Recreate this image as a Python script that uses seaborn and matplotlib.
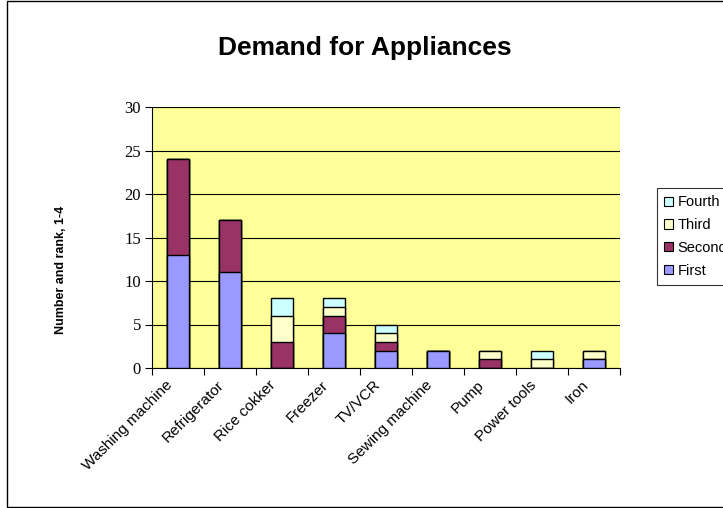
import matplotlib
matplotlib.use("Agg")
import matplotlib.pyplot as plt
import matplotlib.transforms as mtrans
import seaborn as sns
import numpy as np
from matplotlib.patches import Patch, Rectangle

categories = ["Washing machine", "Refrigerator", "Rice cokker", "Freezer", "TV/VCR",
              "Sewing machine", "Pump", "Power tools", "Iron"]
first = [13, 11, 0, 4, 2, 2, 0, 0, 1]
second = [11, 6, 3, 2, 1, 0, 1, 0, 0]
third = [0, 0, 3, 1, 1, 0, 1, 1, 1]
fourth = [0, 0, 2, 1, 1, 0, 0, 1, 0]
series_names = ["First", "Second", "Third", "Fourth"]
colors = ["#9999FF", "#993366", "#FFFFCC", "#CCFFFF"]

sns.set_style("white")
plt.rcParams["font.family"] = ["Liberation Sans", "DejaVu Sans"]
plt.rcParams["text.color"] = "black"
plt.rcParams["axes.labelcolor"] = "black"
plt.rcParams["xtick.color"] = "black"
plt.rcParams["ytick.color"] = "black"

fig = plt.figure(figsize=(7.23, 5.08), dpi=100)
ax = fig.add_axes([152/723, 1-368/508, (620-152)/723, (368-107)/508])
ax.set_facecolor("#FFFF99")

series = [first, second, third, fourth]
cums = np.cumsum(np.array(series), axis=0)
for i in range(3, -1, -1):
    sns.barplot(x=categories, y=cums[i], color=colors[i], edgecolor="black",
                linewidth=1.0, width=0.42, saturation=1, ax=ax, zorder=3)

ax.set_ylim(0, 30)
ax.set_xlim(-0.5, len(categories) - 0.5)
ax.set_yticks(range(0, 31, 5))
ax.yaxis.grid(True, color="black", linewidth=0.8, zorder=1)
ax.set_axisbelow(True)
for lbl in ax.get_yticklabels():
    lbl.set_family("Liberation Serif")
    lbl.set_fontsize(12)
ax.tick_params(axis="y", direction="out", length=5, width=0.8, color="black", left=True, pad=3)

ax.set_xticks(np.arange(len(categories)), labels=categories, rotation=45, ha="right",
              rotation_mode="anchor", fontsize=11)
ax.tick_params(axis="x", length=0, pad=7, bottom=False)
shift = mtrans.ScaledTranslation(-13/100, 0, fig.dpi_scale_trans)
for lbl in ax.get_xticklabels():
    lbl.set_transform(lbl.get_transform() + shift)
ax.set_xticks(np.arange(-0.5, len(categories)), minor=True)
ax.tick_params(axis="x", which="minor", direction="out", length=5, width=0.8,
               color="black", bottom=True)

for s in ["top", "right"]:
    ax.spines[s].set_visible(False)
for s in ["left", "bottom"]:
    ax.spines[s].set_color("black")
    ax.spines[s].set_linewidth(0.8)
ax.set_xlabel("")
ax.set_ylabel("Number and rank, 1-4", fontsize=9, fontweight="bold")
ax.yaxis.set_label_coords((67-152)/468, (368-270)/261)

fig.text(365/723, 1-48/508, "Demand for Appliances", ha="center", va="center",
         fontsize=19, fontweight="bold", color="black")

handles = [Patch(facecolor=colors[i], edgecolor="black", linewidth=0.8, label=series_names[i])
           for i in range(3, -1, -1)]
leg = fig.legend(handles=handles, loc="lower left", bbox_to_anchor=(657/723, 1-285/508),
                 frameon=True, fancybox=False, fontsize=10.5, handlelength=0.6, handleheight=0.6,
                 handletextpad=0.3, labelspacing=0.6, borderpad=0.5, borderaxespad=0)
leg.get_frame().set_edgecolor("black")
leg.get_frame().set_linewidth(0.8)
for t in leg.get_texts():
    t.set_color("black")

fig.patches.append(Rectangle((7/723, 1/508), 1.0, 506/508, transform=fig.transFigure,
                             fill=False, edgecolor="black", linewidth=1.0))

fig.savefig("out.png", dpi=100)
